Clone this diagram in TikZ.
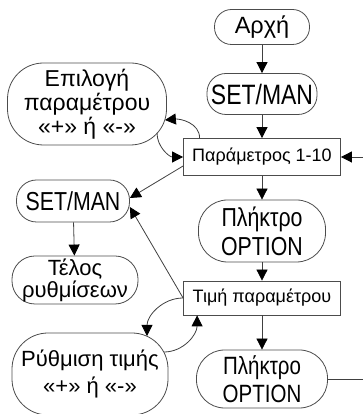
\documentclass[tikz,border=0pt]{standalone}
\usepackage{fontspec}
\setmainfont{Liberation Sans}
\newfontfamily\narrowfont[FakeStretch=0.82]{Liberation Sans}
\usetikzlibrary{arrows.meta}
\tikzset{
  round box/.style={
    draw=black!70,
    line width=0.8pt,
    rounded corners=#1,
    align=center,
    inner sep=0pt,
  },
  square box/.style={
    draw=black!70,
    line width=0.8pt,
    minimum width=157pt,
    inner sep=0pt,
    font=\fontsize{18}{20}\selectfont,
  },
  flow/.style={
    draw=black!75,
    line width=0.8pt,
    -{Triangle[length=11pt,width=11pt,black]},
  },
}

\begin{document}
\begin{tikzpicture}[x=1pt,y=1pt]
        \useasboundingbox (0,0) rectangle (363,414);

        % right column
        \node [round box=17pt, minimum width=95pt, minimum height=35pt, font=\fontsize{23.5}{26}\selectfont] (start) at (262,387) {Αρχή};
        \node [round box=19pt, minimum width=110pt, minimum height=41pt, font=\narrowfont\fontsize{28}{30}\selectfont] (set1) at (262,320) {SET/MAN};
        \node [square box, minimum height=37pt] (param) at (262,257) {Παράμετρος 1-10};
        \node [round box=29pt, minimum width=127pt, minimum height=62pt, font=\narrowfont\fontsize{26}{29}\selectfont] (opt1) at (262,183) {Πλήκτρο\\OPTION};
        \node [square box, minimum height=34pt] (value) at (262,116) {Τιμή παραμέτρου};
        \node [round box=28pt, minimum width=131pt, minimum height=58pt, font=\narrowfont\fontsize{25}{28}\selectfont] (opt2) at (262,35) {Πλήκτρο\\OPTION};

        % left column
        \node [round box=36pt, minimum width=159pt, minimum height=82pt, font=\fontsize{23}{24}\selectfont] (pick) at (87,310) {Επιλογή\\παραμέτρου\\«+» ή «-»};
        \node [round box=20pt, minimum width=113pt, minimum height=42pt, font=\narrowfont\fontsize{26}{28}\selectfont] (set2) at (73,213) {SET/MAN};
        \node [round box=23pt, minimum width=126pt, minimum height=48pt, font=\fontsize{22}{22}\selectfont] (finish) at (75,134) {Τέλος\\ρυθμίσεων};
        \node [round box=36pt, minimum width=156pt, minimum height=82pt, font=\fontsize{22}{27}\selectfont] (adjust) at (90,40) {Ρύθμιση τιμής\\«+» ή «-»};

        \coordinate (back) at (372,0);

        \draw [flow] (start) -- (set1);
        \draw [flow] (set1) -- (param);
        \draw [flow] (param) -- (opt1);
        \draw [flow] (opt1) -- (value);
        \draw [flow] (value) -- (opt2);
        \draw [flow] (opt2.east) -- (opt2.east -| back) |- (param.east);
        \draw [flow] (set2) -- (finish);

        \draw [flow] ([xshift=16.5pt]param.north west) to[out=90,in=5] ([shift={(-2pt,-16pt)}]pick.east);
        \draw [flow] ([shift={(70pt,-29pt)}]pick.center) to[out=-90,in=180] (param.west);
        \draw [flow] ([yshift=-9pt]param.west) -- ([yshift=3pt]set2.east);
        \draw [flow] (value.west) -- ([yshift=-6pt]set2.east);
        \draw [flow] (value.west) to[out=180,in=90] ([shift={(57pt,38pt)}]adjust.center);
        \draw [flow] ([shift={(74pt,22pt)}]adjust.center) to[out=0,in=-90] ([xshift=14pt]value.south west);
    \end{tikzpicture}
\end{document}
